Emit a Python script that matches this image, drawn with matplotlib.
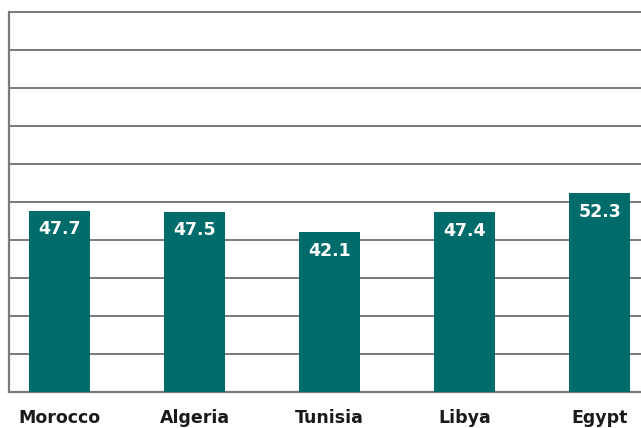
import matplotlib
matplotlib.use("Agg")
import matplotlib.pyplot as plt

countries = ["Morocco", "Algeria", "Tunisia", "Libya", "Egypt"]
values = [47.7, 47.5, 42.1, 47.4, 52.3]

W, H = 641, 428
fig = plt.figure(figsize=(W / 100, H / 100), dpi=100)
ax = fig.add_axes([9 / W, 36 / H, 632 / W, 380 / H])

bar_color = "#006b6b"
grid_color = "#7a7a7a"

x = list(range(len(countries)))
ax.bar(x, values, width=0.45, color=bar_color, zorder=3)

ax.set_ylim(0, 100)
ax.set_xlim(-0.374, 4.307)
ax.set_yticks(range(0, 101, 10))
ax.yaxis.grid(True, color=grid_color, linewidth=1.4, zorder=0)
for gl in ax.get_ygridlines():
    gl.set_clip_on(False)
ax.tick_params(axis="y", left=False, labelleft=False)
ax.tick_params(axis="x", bottom=False, pad=9)
ax.set_xticks(x)
ax.set_xticklabels(countries, fontsize=12.5, fontweight="bold", color="#1a1a1a",
                   family="DejaVu Sans")

for s in ["top", "right"]:
    ax.spines[s].set_visible(False)
ax.spines["left"].set_color(grid_color)
ax.spines["left"].set_linewidth(1.6)
ax.spines["bottom"].set_color(grid_color)
ax.spines["bottom"].set_linewidth(1.6)

for xi, v in zip(x, values):
    ax.annotate(f"{v}", (xi, v), xytext=(0, -7), textcoords="offset points",
                ha="center", va="top", color="white", fontsize=12.5,
                fontweight="bold", zorder=4)

fig.savefig("out.png", dpi=100)
